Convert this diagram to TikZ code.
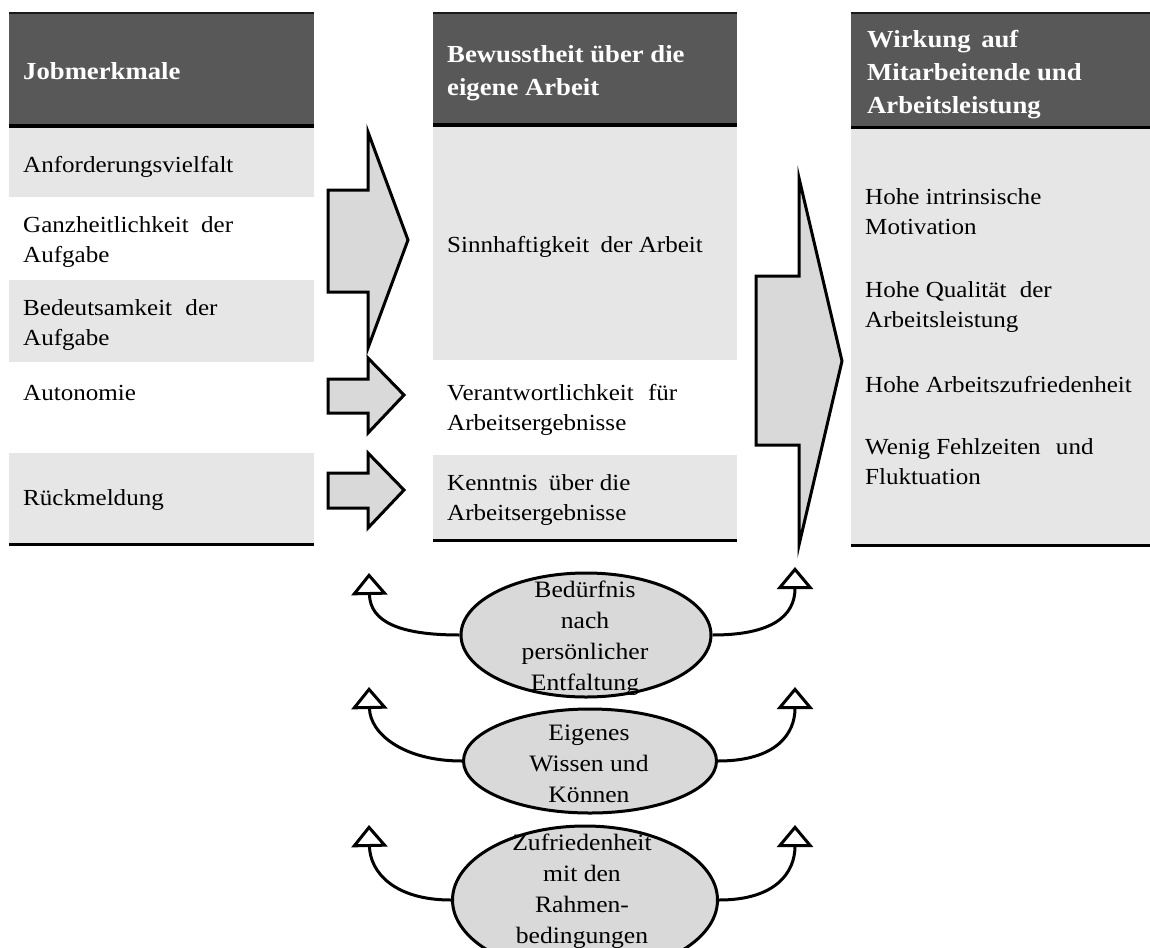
\documentclass[tikz,border=0pt]{standalone}
\usepackage{fontspec}
\setmainfont{Liberation Serif}[FakeStretch=1.09]
\usetikzlibrary{shapes.geometric,arrows.meta}

\definecolor{headgray}{HTML}{585858}
\definecolor{bandgray}{HTML}{E6E6E6}
\definecolor{shapegray}{HTML}{D9D9D9}

% stacked lines with the first baseline as the node's base
\newcommand{\leftlines}[1]{\begin{tabular}[t]{@{}l@{}}#1\end{tabular}}
\newcommand{\centerlines}[1]{\begin{tabular}[t]{@{}c@{}}#1\end{tabular}}
% justified, wider word gap
\newcommand{\wgap}[1][6pt]{\hspace{#1} }

\begin{document}
\begin{tikzpicture}[x=1pt,y=-1pt,
  band/.style={fill=bandgray, draw=none},
  header/.style={fill=headgray, draw=none},
  rule/.style={line width=3pt, black},
  toprule/.style={line width=2.2pt, black!90},
  itemtext/.style={anchor=base west, inner sep=0pt, font=\fontsize{23}{30}\selectfont},
  headtext/.style={anchor=base west, inner sep=0pt, text=white, font=\fontsize{24.5}{33}\selectfont\bfseries},
  ovaltext/.style={anchor=base, inner sep=0pt, font=\fontsize{23.5}{31}\selectfont},
  oval/.style={ellipse, draw, line width=3pt, fill=shapegray, inner sep=0pt},
  fatarrow/.style={draw, line width=3pt, fill=shapegray, line join=miter},
  curvelink/.style={line width=3pt, -{Triangle[open, length=22pt, width=36pt]}},
]
\useasboundingbox (0,0) rectangle (1150,947);
\clip (0,0) rectangle (1150,947);

% ---- column 1: job characteristics
\fill[header] (9,13) rectangle (314,126);
\fill[band] (9,127) rectangle (314,197);
\fill[band] (9,280) rectangle (314,362);
\fill[band] (9,453) rectangle (314,543);
\draw[toprule] (9,13) -- (314,13);
\draw[rule] (9,126) -- (314,126);
\draw[rule] (9,544) -- (314,544);

% ---- column 2: awareness of one's own work
\fill[header] (433,13) rectangle (737,125);
\fill[band] (433,127) rectangle (737,360);
\fill[band] (433,455) rectangle (737,539);
\draw[toprule] (433,13) -- (737,13);
\draw[rule] (433,125) -- (737,125);
\draw[rule] (433,540) -- (737,540);

% ---- column 3: effects
\fill[header] (851,13) rectangle (1150,127);
\fill[band] (851,127) rectangle (1150,545);
\draw[toprule] (851,13) -- (1150,13);
\draw[rule] (851,127) -- (1150,127);
\draw[rule] (851,545) -- (1150,545);

% ---- block arrows
\draw[fatarrow] (328,190) -- (368,190) -- (368,132) -- (408,240) -- (368,348) -- (368,292) -- (328,292) -- cycle;
\draw[fatarrow] (328,379) -- (368,379) -- (368,358) -- (404,395) -- (368,433) -- (368,413) -- (328,413) -- cycle;
\draw[fatarrow] (328,473) -- (368,473) -- (368,453) -- (404,490) -- (368,528) -- (368,508) -- (328,508) -- cycle;
\draw[fatarrow] (756,276) -- (799,276) -- (799,178) -- (842,361) -- (799,545) -- (799,445) -- (756,445) -- cycle;

% ---- headers
\node[headtext] (h1) at (23,80) {Jobmerkmale};
\node[headtext] (h2) at (447,63) {\leftlines{Bewusstheit über die\\eigene Arbeit}};
\node[headtext] (h3) at (867,48) {\leftlines{Wirkung\wgap[4pt]auf\\Mitarbeitende und\\Arbeitsleistung}};

% ---- column texts
\node[itemtext] (j1) at (23,172) {Anforderungsvielfalt};
\node[itemtext] (j2) at (23,232) {\leftlines{Ganzheitlichkeit\wgap der\\Aufgabe}};
\node[itemtext] (j3) at (23,315) {\leftlines{Bedeutsamkeit\wgap[7pt]der\\Aufgabe}};
\node[itemtext] (j4) at (23,400) {Autonomie};
\node[itemtext] (j5) at (23,505) {Rückmeldung};

\node[itemtext] (b1) at (447,252) {Sinnhaftigkeit\wgap[5pt]der Arbeit};
\node[itemtext] (b2) at (447,400) {\leftlines{Verantwortlichkeit\wgap[8pt]für\\Arbeitsergebnisse}};
\node[itemtext] (b3) at (447,490) {\leftlines{Kenntnis\wgap[5pt]über die\\Arbeitsergebnisse}};

\node[itemtext] (w1) at (865,204) {\leftlines{Hohe intrinsische\\Motivation}};
\node[itemtext] (w2) at (865,297) {\leftlines{Hohe Qualität\wgap[7pt]der\\Arbeitsleistung}};
\node[itemtext] (w3) at (865,392) {Hohe Arbeitszufriedenheit};
\node[itemtext] (w4) at (865,454) {\leftlines{Wenig Fehlzeiten\wgap[9pt]und\\Fluktuation}};

% ---- moderators
\node[oval, minimum width=250pt, minimum height=124pt] (e1) at (586,635) {};
\node[oval, minimum width=253pt, minimum height=104pt] (e2) at (590,761) {};
\node[oval, minimum width=265pt, minimum height=148pt] (e3) at (585,900) {};

\coordinate (l1) at (369,573);
\coordinate (r1) at (795,567);
\coordinate (l2) at (369,687);
\coordinate (r2) at (795,687);
\coordinate (l3) at (369,825);
\coordinate (r3) at (795,825);

\draw[curvelink] (e1.west) .. controls (400,635) and (370,622) .. (l1);
\draw[curvelink] (e1.east) .. controls (772,635) and (795,616) .. (r1);
\draw[curvelink] (e2.west) .. controls (404,761) and (370,734) .. (l2);
\draw[curvelink] (e2.east) .. controls (776,761) and (795,734) .. (r2);
\draw[curvelink] (e3.west) .. controls (394,900) and (370,872) .. (l3);
\draw[curvelink] (e3.east) .. controls (776,900) and (795,872) .. (r3);

\node[ovaltext] (m1) at (585,597) {\centerlines{Bedürfnis\\nach\\persönlicher\\Entfaltung}};
\node[ovaltext] (m2) at (589,740) {\centerlines{Eigenes\\Wissen und\\Können}};
\node[ovaltext] (m3) at (582,850) {\centerlines{Zufriedenheit\\mit den\\Rahmen-\\bedingungen}};
\end{tikzpicture}
\end{document}
